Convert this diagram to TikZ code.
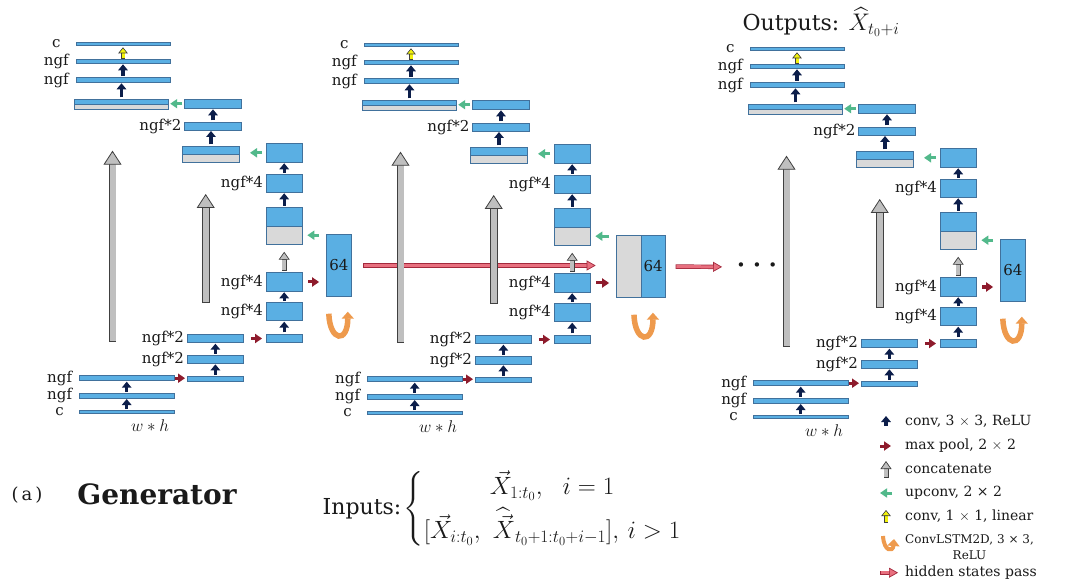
\documentclass[tikz,border=0pt]{standalone}
\usepackage{fix-cm}
\usepackage{amsmath}
\usepackage{fontspec}
\setmainfont{DejaVu Serif}
\usetikzlibrary{arrows.meta,positioning,calc}
\definecolor{UNFill}{HTML}{5AAFE3}
\definecolor{UNLine}{HTML}{41719C}
\definecolor{UNGray}{HTML}{D9D9D9}
\definecolor{UNNavy}{HTML}{0C1E4A}
\definecolor{UNRed}{HTML}{8E1B2C}
\definecolor{UNGreen}{HTML}{52B98B}
\definecolor{UNYellow}{HTML}{F2F20C}
\definecolor{UNConcat}{HTML}{BFBFBF}
\definecolor{UNDark}{HTML}{404040}
\definecolor{UNOrange}{HTML}{EE9A4D}
\definecolor{UNPink}{HTML}{E8707F}
\definecolor{UNPinkLine}{HTML}{A3283C}
\definecolor{UNInk}{HTML}{1A1A1A}
\pgfdeclarelayer{bg}
\pgfsetlayers{bg,main}
\tikzset{
  bar/.style 2 args={draw=UNLine,fill=UNFill,line width=0.8pt,inner sep=0pt,outer sep=0pt,
                     minimum width=#1,minimum height=#2},
  graybar/.style 2 args={bar={#1}{#2},fill=UNGray},
  lbl/.style={text=UNInk,font=\fontsize{15}{17}\selectfont,inner sep=0pt},
  lblc/.style={lbl,minimum width=27pt,align=center},
  conv/.style={UNNavy,line width=3.4pt,shorten <=1.5pt,shorten >=1pt,
               -{Triangle[length=6pt,width=9.5pt]}},
  pool/.style 2 args={UNRed,line width=3pt,shorten <=#1,shorten >=#2,
               -{Triangle[length=7pt,width=9pt]}},
  upconv/.style 2 args={UNGreen,line width=3pt,shorten <=#1,shorten >=#2,
               -{Triangle[length=7pt,width=9pt]}},
  lin/.style 2 args={UNYellow,line width=3pt,shorten <=#1,shorten >=#2,
               -{Triangle[length=6pt,width=9.5pt,line width=0.6pt,color=UNDark,fill=UNYellow]},
               preaction={draw=UNDark,line width=4.2pt,arrows=-,shorten <=#1-0.6pt,shorten >=#2+5pt}},
  catup/.style 2 args={UNConcat,line width=3.6pt,shorten <=#1,shorten >=#2,
               -{Triangle[length=8pt,width=11pt,line width=0.7pt,color=UNDark,fill=UNConcat]},
               preaction={draw=UNDark,line width=5pt,arrows=-,shorten <=#1-0.7pt,shorten >=#2+7pt}},
  skip/.style={UNConcat,line width=6pt,
               -{Triangle[length=14pt,width=18pt,line width=0.8pt,color=UNDark,fill=UNConcat]},
               preaction={draw=UNDark,line width=7.6pt,arrows=-,shorten <=-0.8pt,shorten >=13pt}},
  hpass/.style 2 args={UNPink,line width=3pt,shorten <=#1,shorten >=#2,
               -{Triangle[length=9pt,width=10pt,line width=0.7pt,color=UNPinkLine,fill=UNPink]},
               preaction={draw=UNPinkLine,line width=4.4pt,arrows=-,shorten <=#1-0.7pt,shorten >=#2+8pt}},
  lstm/.style={UNOrange,line width=5.5pt,-{Triangle[length=7pt,width=12pt]}},
  legtext/.style={text=UNInk,font=\fontsize{14}{16}\selectfont,inner sep=0pt,anchor=west},
}

\begin{document}
\begin{tikzpicture}[x=1pt,y=-1pt]
  \begin{pgfonlayer}{bg}
    \fill[white] (0,0) rectangle (1065,585);
  \end{pgfonlayer}
  \useasboundingbox (0,0) rectangle (1065,585);

  % three unrolled U-nets
  \foreach \b/\dx/\dy in {1/0/0,2/288/1,3/674/5}{
  \begin{scope}[shift={(\dx,\dy)}]
    % decoder side
    \node[bar={94}{3}] (\b-out) at (123,44) {};
    \node[bar={94}{4}] (\b-d1) at (123,61.3) {};
    \node[bar={94}{4.6}] (\b-d2) at (123,80) {};
    \node[bar={94.4}{5.7}] (\b-c1a) at (121.5,101.8) {};
    \node[graybar={94.4}{4.6}] (\b-c1b) at (121.5,107) {};
    \node[bar={57}{9.3}] (\b-u1) at (213,103.7) {};
    \node[bar={57}{8}] (\b-u2) at (213,126) {};
    \node[bar={57}{8}] (\b-c2a) at (211,150) {};
    \node[graybar={57}{8.3}] (\b-c2b) at (211,158.15) {};
    \node[bar={36.3}{19}] (\b-v1) at (284.2,152.8) {};
    \node[bar={36.3}{18}] (\b-v2) at (284.2,183.3) {};
    \node[bar={36.3}{18.7}] (\b-c3a) at (284.2,216.7) {};
    \node[graybar={36.3}{18.3}] (\b-c3b) at (284.2,235.2) {};
    % encoder side
    \node[bar={94.7}{2.6}] (\b-in) at (126.7,412) {};
    \node[bar={94.7}{4.7}] (\b-e1a) at (126.7,395.7) {};
    \node[bar={94.7}{5}] (\b-e1b) at (126.7,378.2) {};
    \node[bar={56.7}{4.3}] (\b-e2p) at (215.4,378.8) {};
    \node[bar={56.7}{8.3}] (\b-e2a) at (215.4,359.2) {};
    \node[bar={56.7}{8.4}] (\b-e2b) at (215.4,338.5) {};
    \node[bar={36.3}{8.7}] (\b-e3p) at (284.2,338.3) {};
    \node[bar={36.3}{18}] (\b-e4b) at (284.2,311.7) {};
    \node[bar={36.3}{18.6}] (\b-e4a) at (284.2,282) {};
    \ifnum\b=2
      \node[graybar={24.3}{62.4}] (\b-h) at (340.8,265.5) {};
      \node[bar={24.3}{62.4},lbl,right=0pt of \b-h] (\b-hx) {64};
      \coordinate (\b-uc) at ($(\b-h.south east)+(3,0)$);
    \else
      \node[bar={24.3}{62.4},lbl] (\b-h) at (338.8,265.5) {64};
      \coordinate (\b-uc) at (\b-h.south);
    \fi

    % channel labels
    \node[lblc,left=6pt of \b-out] (\b-lout) {c};
    \node[lblc,left=6pt of \b-d1] (\b-ld1) {ngf};
    \node[lblc,left=6pt of \b-d2] (\b-ld2) {ngf};
    \node[lbl,left=3pt of \b-u2] (\b-lu2) {ngf*2};
    \node[lbl,left=3pt of \b-v2] (\b-lv2) {ngf*4};
    \node[lbl,left=3pt of \b-e4a] (\b-le4a) {ngf*4};
    \node[lbl,left=3pt of \b-e4b] (\b-le4b) {ngf*4};
    \node[lbl,left=3pt of \b-e2b] (\b-le2b) {ngf*2};
    \node[lbl,left=3pt of \b-e2a] (\b-le2a) {ngf*2};
    \node[lblc,left=6pt of \b-e1b] (\b-le1b) {ngf};
    \node[lblc,left=6pt of \b-e1a] (\b-le1a) {ngf};
    \node[lblc,left=6pt of \b-in] (\b-lin) {c};
    \node[lbl,font=\fontsize{17}{19}\selectfont] (\b-wh) at (150,426) {$w*h$};

    % conv steps
    \draw[lin={1pt}{1.8pt}] (\b-d1.north) -- (\b-d1.north |- \b-out.south);
    \draw[conv] (\b-d2.north) -- (\b-d2.north |- \b-d1.south);
    \draw[conv] (\b-c1a.north) -- (\b-c1a.north |- \b-d2.south);
    \draw[conv] (\b-u2.north) -- (\b-u2.north |- \b-u1.south);
    \draw[conv] (\b-c2a.north) -- (\b-c2a.north |- \b-u2.south);
    \draw[conv] (\b-v2.north) -- (\b-v2.north |- \b-v1.south);
    \draw[conv] (\b-c3a.north) -- (\b-c3a.north |- \b-v2.south);
    \draw[catup={2.7pt}{7.4pt}] (\b-e4a.north) -- (\b-e4a.north |- \b-c3b.south);
    \draw[conv] (\b-e4b.north) -- (\b-e4a.south);
    \draw[conv] (\b-e3p.north) -- (\b-e4b.south);
    \draw[conv] (\b-e2a.north) -- (\b-e2a.north |- \b-e2b.south);
    \draw[conv] (\b-e2p.north) -- (\b-e2p.north |- \b-e2a.south);
    \draw[conv] (\b-e1a.north) -- (\b-e1a.north |- \b-e1b.south);
    \draw[conv] (\b-in.north) -- (\b-in.north |- \b-e1a.south);

    % pooling and upconv
    \draw[pool={1pt}{2pt}] (\b-e1b.east) -- (\b-e1b.east -| \b-e2p.west);
    \draw[pool={7pt}{4pt}] (\b-e2b.east) -- (\b-e2b.east -| \b-e3p.west);
    \draw[pool={6pt}{7.5pt}] (\b-e4a.east) -- (\b-e4a.east -| \b-h.west);
    \draw[upconv={2.5pt}{1.5pt}] (\b-u1.west) -- (\b-u1.west -| \b-c1a.east);
    \draw[upconv={4pt}{10.5pt}] (\b-v1.west) -- (\b-v1.west -| \b-c2b.east);
    \draw[upconv={7.5pt}{5pt}] (\b-c3b.east -| \b-h.west) -- (\b-c3b.east);

    % skip connections
    \coordinate (\b-s1a) at (112.5,340.7);
    \coordinate (\b-s1b) at (112.5,150.7);
    \coordinate (\b-s2a) at (205.7,302.3);
    \coordinate (\b-s2b) at (205.7,194);
    \draw[skip] (\b-s1a) -- (\b-s1b);
    \draw[skip] (\b-s2a) -- (\b-s2b);

    % recurrent cell
    \draw[lstm] ($(\b-uc)+(-10,17)$) .. controls ($(\b-uc)+(-9,45)$) and ($(\b-uc)+(9,47)$) .. ($(\b-uc)+(9,15)$);
  \end{scope}
  }

  \node[lbl,font=\fontsize{15}{17}\selectfont] (dots) at (757,267)
    {\textbullet\hspace{7pt}\textbullet\hspace{7pt}\textbullet};
  \begin{pgfonlayer}{bg}
    \draw[hpass={13pt}{21pt}] (1-h.east) -- (1-h.east -| 2-h.west);
    \draw[hpass={11pt}{14.5pt}] (2-hx.east) -- (dots.west);
  \end{pgfonlayer}

  \node[text=UNInk,font=\fontsize{22}{26}\selectfont,inner sep=0pt] (outs) at (821,22)
    {Outputs: {\fontsize{24}{27}\selectfont$\widehat{X}_{t_0+i}$}};

  % captions
  \node[text=UNInk,font=\fontsize{18}{20}\selectfont,inner sep=0pt] (tag) at (27,495) {(\,a\,)};
  \node[text=UNInk,font=\fontsize{28}{32}\selectfont\bfseries,inner sep=0pt] (gen) at (157,494) {Generator};
  \node[text=UNInk,font=\fontsize{22}{26}\selectfont,inner sep=0pt] (inp) at (362,509) {Inputs:};
  \node[text=UNInk,font=\fontsize{25}{30}\selectfont,inner sep=0pt,right=2pt of inp] (cases)
    {$\left\{\begin{array}{@{}c@{}}\vec{X}_{1:t_0},\ \ i=1\\[4pt]
      [\vec{X}_{i:t_0},\ \widehat{\vec{X}}_{t_0+1:t_0+i-1}],\,i>1\end{array}\right.$};

  % legend
  \node[legtext] (lg1) at (905,421) {conv,\ 3 $\times$ 3,\ ReLU};
  \node[legtext] (lg2) at (905,446) {max pool,\ 2 $\times$ 2};
  \node[legtext] (lg3) at (905,469) {concatenate};
  \node[legtext] (lg4) at (905,493) {upconv, 2 × 2};
  \node[legtext] (lg5) at (905,516) {conv,\ 1 $\times$ 1,\ linear};
  \node[legtext,font=\fontsize{12}{16}\selectfont,align=center] (lg6) at (905,547) {ConvLSTM2D, 3 × 3,\\ReLU};
  \node[legtext] (lg7) at (905,572.7) {hidden states pass};
  \draw[conv] ($(lg1.west)+(-19,6)$) -- ($(lg1.west)+(-19,-6)$);
  \draw[pool={0pt}{0pt}] ($(lg2.west)+(-25,0)$) -- ($(lg2.west)+(-14,0)$);
  \draw[catup={0pt}{0pt}] ($(lg3.west)+(-19,8)$) -- ($(lg3.west)+(-19,-8)$);
  \draw[upconv={0pt}{0pt}] ($(lg4.west)+(-13,0)$) -- ($(lg4.west)+(-25,0)$);
  \draw[lin={0pt}{0pt}] ($(lg5.west)+(-19,6)$) -- ($(lg5.west)+(-19,-6)$);
  \draw[lstm,line width=4pt] ($(lg6.west)+(-22,-11)$) .. controls ($(lg6.west)+(-21,5)$) and ($(lg6.west)+(-12,5)$) .. ($(lg6.west)+(-11,-8)$);
  \draw[hpass={0pt}{0pt}] ($(lg7.west)+(-24,0)$) -- ($(lg7.west)+(-7,0)$);
\end{tikzpicture}
\end{document}
